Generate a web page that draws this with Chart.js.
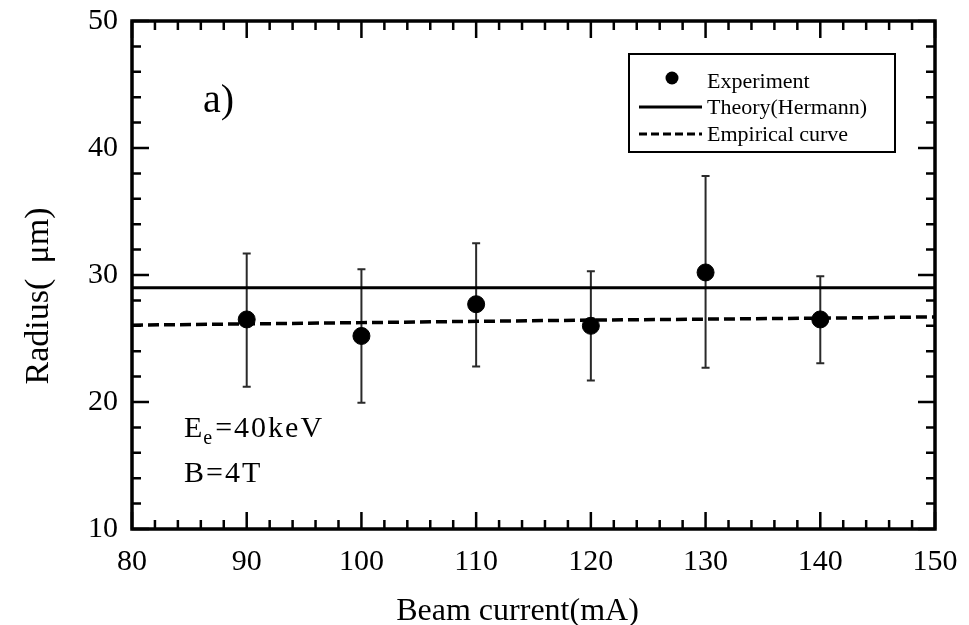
<!DOCTYPE html>
<html><head><meta charset="utf-8">
<script src="https://cdn.jsdelivr.net/npm/chart.js@4.4.0/dist/chart.umd.min.js"></script>
<style>html,body{margin:0;padding:0;background:#fff;}#wrap{position:relative;width:969px;height:625px;}</style>
</head><body><div id="wrap"><canvas id="c" width="969" height="625"></canvas></div>
<script>
// ---- data ----
const beamCurrent = [90, 100, 110, 120, 130, 140];
const radius      = [26.5, 25.2, 27.7, 26.0, 30.2, 26.5];
const errHigh     = [31.7, 30.45, 32.5, 30.3, 37.8, 29.9];
const errLow      = [21.2, 19.95, 22.8, 21.7, 22.7, 23.05];
const theoryX     = [80, 150];
const theoryY     = [29.0, 29.0];
const empiricalX  = [80, 100, 120, 140, 150];
const empiricalY  = [26.05, 26.25, 26.45, 26.6, 26.7];
const xTicks      = [80, 90, 100, 110, 120, 130, 140, 150];
const yTicks      = [10, 20, 30, 40, 50];
const legendLabels = ['Experiment', 'Theory(Hermann)', 'Empirical curve'];

const SERIF = '"Liberation Serif", "DejaVu Serif", serif';

const pts = (xs, ys) => xs.map((x, i) => ({x: x, y: ys[i]}));

const framePlugin = {
  id: 'frame',
  beforeDatasetsDraw(chart) {
    const {ctx, scales: {x, y}} = chart;
    ctx.save();
    ctx.strokeStyle = '#2a2a2a';
    ctx.lineWidth = 2;
    beamCurrent.forEach((b, i) => {
      const px = x.getPixelForValue(b);
      const yt = y.getPixelForValue(errHigh[i]);
      const yb = y.getPixelForValue(errLow[i]);
      ctx.beginPath();
      ctx.moveTo(px, yt); ctx.lineTo(px, yb);
      ctx.moveTo(px - 4, yt); ctx.lineTo(px + 4, yt);
      ctx.moveTo(px - 4, yb); ctx.lineTo(px + 4, yb);
      ctx.stroke();
    });
    ctx.restore();
  },
  afterDraw(chart) {
    const {ctx, chartArea: a, scales: {x, y}} = chart;
    ctx.save();
    ctx.strokeStyle = '#000';
    // ticks inside on all sides
    ctx.lineWidth = 2.5;
    for (let v = x.min; v <= x.max; v += 2) {
      const px = x.getPixelForValue(v);
      const len = (v % 10 === 0) ? 17 : 9;
      ctx.beginPath();
      ctx.moveTo(px, a.bottom); ctx.lineTo(px, a.bottom - len);
      ctx.moveTo(px, a.top); ctx.lineTo(px, a.top + len);
      ctx.stroke();
    }
    for (let v = y.min; v <= y.max; v += 2) {
      const py = y.getPixelForValue(v);
      const len = (v % 10 === 0) ? 17 : 9;
      ctx.beginPath();
      ctx.moveTo(a.left, py); ctx.lineTo(a.left + len, py);
      ctx.moveTo(a.right, py); ctx.lineTo(a.right - len, py);
      ctx.stroke();
    }
    // frame
    ctx.lineWidth = 3.5;
    ctx.strokeRect(a.left, a.top, a.right - a.left, a.bottom - a.top);

    // axis titles
    ctx.fillStyle = '#000';
    ctx.font = '32px ' + SERIF;
    ctx.textAlign = 'center';
    ctx.textBaseline = 'alphabetic';
    ctx.fillText('Beam current(mA)', (a.left + a.right) / 2 - 16, 620);
    ctx.save();
    ctx.translate(48, (a.top + a.bottom) / 2 + 21);
    ctx.rotate(-Math.PI / 2);
    ctx.font = '34px ' + SERIF;
    ctx.fillText('Radius(\u2009 \u03bcm)', 0, 0);
    ctx.restore();

    // panel label
    ctx.textAlign = 'left';
    ctx.font = '40px ' + SERIF;
    ctx.fillText('a)', a.left + 71, a.top + 91);

    // parameters
    ctx.letterSpacing = '2px';
    ctx.font = '30px ' + SERIF;
    let tx = a.left + 52, ty = a.top + 416;
    ctx.fillText('E', tx, ty);
    tx += ctx.measureText('E').width;
    ctx.font = '20px ' + SERIF;
    ctx.fillText('e', tx - 1, ty + 7);
    tx += ctx.measureText('e').width;
    ctx.font = '30px ' + SERIF;
    ctx.fillText('=40keV', tx, ty);
    ctx.fillText('B=4T', a.left + 52, a.top + 461);
    ctx.letterSpacing = '0px';

    // legend
    const lx = a.right - 306, ly = a.top + 33;
    ctx.lineWidth = 2;
    ctx.strokeRect(lx, ly, 266, 98);
    ctx.beginPath();
    ctx.arc(lx + 43, ly + 24, 6.5, 0, Math.PI * 2);
    ctx.fill();
    ctx.lineWidth = 3;
    ctx.beginPath();
    ctx.moveTo(lx + 10, ly + 53); ctx.lineTo(lx + 73, ly + 53);
    ctx.stroke();
    ctx.setLineDash([8, 4]);
    ctx.beginPath();
    ctx.moveTo(lx + 10, ly + 80); ctx.lineTo(lx + 73, ly + 80);
    ctx.stroke();
    ctx.setLineDash([]);
    ctx.font = '22px ' + SERIF;
    ctx.textBaseline = 'middle';
    ctx.fillText(legendLabels[0], lx + 78, ly + 28);
    ctx.fillText(legendLabels[1], lx + 78, ly + 54);
    ctx.fillText(legendLabels[2], lx + 78, ly + 81);
    ctx.restore();
  }
};

new Chart(document.getElementById('c'), {
  type: 'scatter',
  data: {
    datasets: [
      {
        label: legendLabels[0],
        data: pts(beamCurrent, radius),
        backgroundColor: '#000', borderColor: '#000',
        pointRadius: 8.5, pointHoverRadius: 8.5, showLine: false
      },
      {
        label: legendLabels[1],
        data: pts(theoryX, theoryY),
        borderColor: '#000', borderWidth: 3, pointRadius: 0, showLine: true, fill: false
      },
      {
        label: legendLabels[2],
        data: pts(empiricalX, empiricalY),
        borderColor: '#000', borderWidth: 3.5, borderDash: [11, 5], pointRadius: 0, showLine: true, fill: false, tension: 0
      }
    ]
  },
  options: {
    responsive: false, animation: false, devicePixelRatio: 1,
    layout: {padding: {top: 21, right: 34, left: 0, bottom: 0}},
    plugins: {legend: {display: false}, tooltip: {enabled: false}, title: {display: false}},
    scales: {
      x: {
        type: 'linear', min: 80, max: 150,
        afterBuildTicks: s => { s.ticks = xTicks.map(v => ({value: v})); },
        afterFit: s => { s.height = 96; s.paddingLeft = 0; s.paddingRight = 0; },
        grid: {display: false, drawTicks: false}, border: {display: false},
        ticks: {color: '#000', font: {family: SERIF, size: 30}, padding: 15, maxRotation: 0}
      },
      y: {
        type: 'linear', min: 10, max: 50,
        afterBuildTicks: s => { s.ticks = yTicks.map(v => ({value: v})); },
        afterFit: s => { s.width = 132; s.paddingTop = 0; s.paddingBottom = 0; },
        grid: {display: false, drawTicks: false}, border: {display: false},
        ticks: {color: '#000', font: {family: SERIF, size: 30}, padding: 14}
      }
    }
  },
  plugins: [framePlugin]
});
</script></body></html>
